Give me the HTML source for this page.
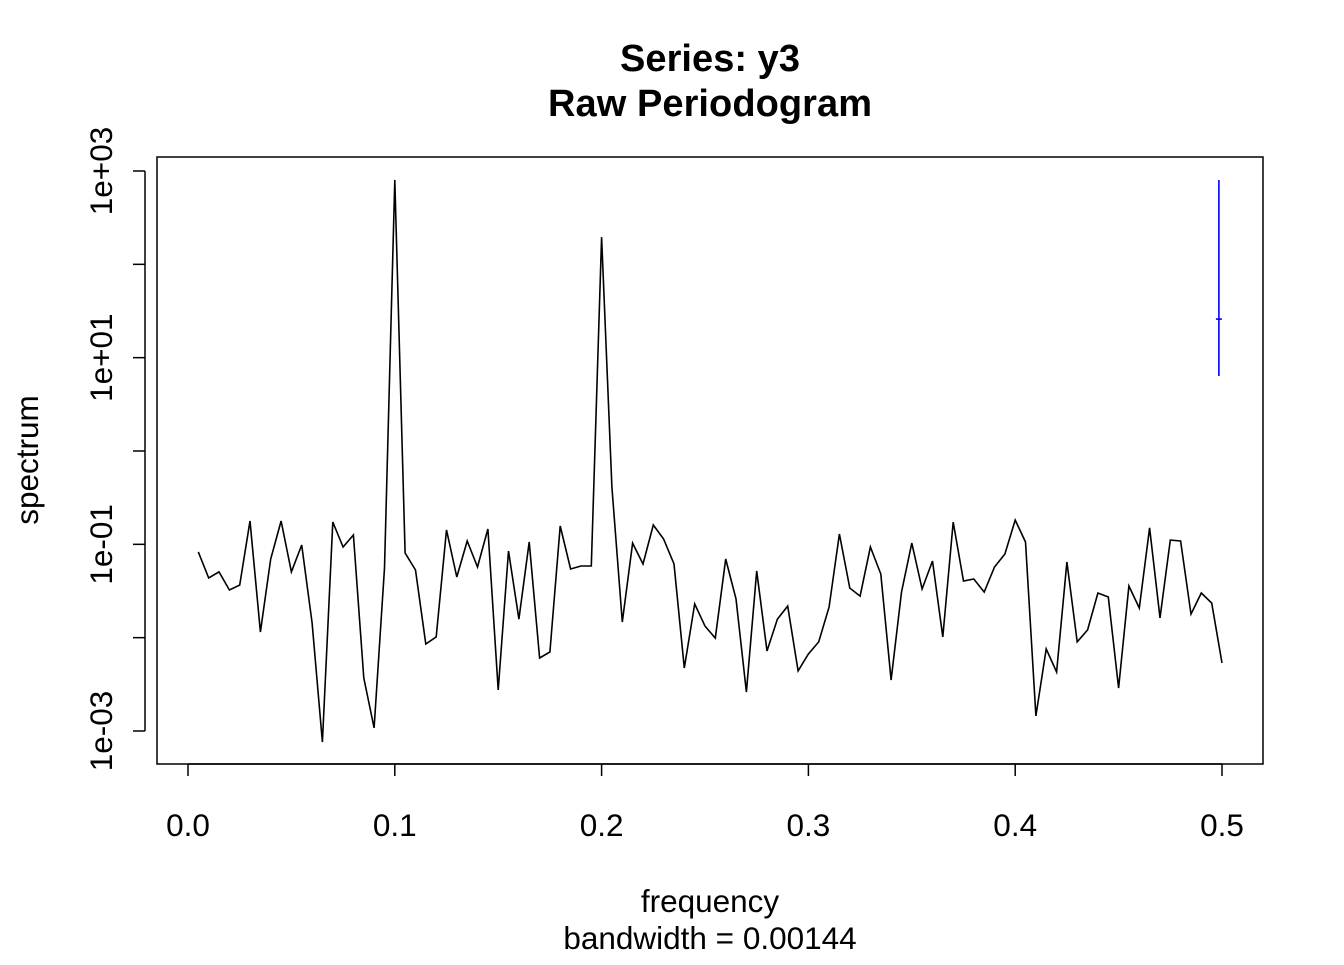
<!DOCTYPE html>
<html><head><meta charset="utf-8"><style>
html,body{margin:0;padding:0;background:#fff}
svg text{font-family:"Liberation Sans",sans-serif;fill:#000}
</style></head><body>
<svg id="chart" width="1344" height="960" xmlns="http://www.w3.org/2000/svg">
<text x="710" y="71" font-size="38" font-weight="bold" text-anchor="middle" textLength="180">Series: y3</text>
<text x="710" y="116" font-size="38" font-weight="bold" text-anchor="middle" textLength="324">Raw Periodogram</text>
<rect x="157" y="157" width="1106" height="607" fill="none" stroke="#000" stroke-width="1.5"/>
<text x="710" y="912" font-size="31.5" text-anchor="middle">frequency</text>
<text x="710" y="949" font-size="31.5" text-anchor="middle">bandwidth = 0.00144</text>
<text transform="translate(38,460) rotate(-90)" font-size="31.5" text-anchor="middle">spectrum</text>
<g id="axes"></g>
<g id="marks"></g>
</svg>
<script>
const freqs = [];
for (let i = 1; i <= 100; i++) freqs.push(+(i * 0.005).toFixed(3));
const spectrum = [0.083,0.0436,0.0506,0.0324,0.0366,0.178,0.0115,0.0697,0.178,0.0506,
0.0984,0.0144,0.00076,0.173,0.0936,0.126,0.0037,0.00108,0.0557,802,
0.0807,0.0531,0.00855,0.0102,0.1426,0.0447,0.1086,0.0571,0.146,0.00275,
0.0849,0.0158,0.106,0.00605,0.00702,0.157,0.0544,0.0586,0.0586,196,
0.411,0.0147,0.103,0.0615,0.161,0.114,0.0615,0.00473,0.023,0.0133,
0.0099,0.0697,0.026,0.00262,0.0518,0.0072,0.0158,0.0218,0.0044,0.00668,
0.009,0.0213,0.129,0.034,0.0279,0.0936,0.0481,0.00352,0.0308,0.103,
0.0332,0.0663,0.0102,0.173,0.0405,0.0425,0.0308,0.0571,0.0787,0.182,
0.106,0.00145,0.00757,0.00429,0.0647,0.009,0.0121,0.0301,0.0273,0.00289,
0.0358,0.0208,0.15,0.0163,0.111,0.1086,0.0179,0.0301,0.0235,0.00535];
const xTicks = [0.0,0.1,0.2,0.3,0.4,0.5];
const xTickLabels = ["0.0","0.1","0.2","0.3","0.4","0.5"];
const yTicksExp = [-3,-2,-1,0,1,2,3];
const yTickLabels = {"-3":"1e-03","-1":"1e-01","1":"1e+01","3":"1e+03"};
const ciBar = [6.37, 25.9, 802];
const ciFreq = 0.4985;

const NS = "http://www.w3.org/2000/svg";
function X(f){ return 188 + f * 2068; }
function Y(v){ return 171 + (3 - Math.log10(v)) * 93.333; }
function mk(tag, attrs, parent){ const e = document.createElementNS(NS, tag); for (const k in attrs) e.setAttribute(k, attrs[k]); parent.appendChild(e); return e; }
const axes = document.getElementById('axes');
const marks = document.getElementById('marks');

mk('line',{x1:X(0),x2:X(0.5),y1:764,y2:764,stroke:'#000','stroke-width':1.5},axes);
xTicks.forEach((t,i)=>{
  const l = mk('line',{x1:X(t),x2:X(t),y1:764,y2:776,stroke:'#000','stroke-width':1.5},axes);
  
  
  const tx = mk('text',{x:X(t),y:836,'font-size':31.5,'text-anchor':'middle'},axes);
  tx.textContent = xTickLabels[i];
  
  
});
mk('line',{x1:145,x2:145,y1:Y(1e3),y2:Y(1e-3),stroke:'#000','stroke-width':1.5},axes);
yTicksExp.forEach(e=>{
  const y = Y(Math.pow(10,e));
  const l = mk('line',{x1:133,x2:145,y1:y,y2:y,stroke:'#000','stroke-width':1.5},axes);
  
  
  if (yTickLabels[String(e)]) {
    const tx = mk('text',{transform:`translate(112,${y}) rotate(-90)`,'font-size':31.5,'text-anchor':'middle'},axes);
    tx.textContent = yTickLabels[String(e)];
    
    
  }
});
const pts = freqs.map((f,i)=>X(f).toFixed(1)+','+Y(spectrum[i]).toFixed(1)).join(' ');
const line = mk('polyline',{points:pts,fill:'none',stroke:'#000','stroke-width':1.6,'stroke-linejoin':'miter'},marks);


const ci = mk('line',{x1:X(ciFreq),x2:X(ciFreq),y1:Y(ciBar[2]),y2:Y(ciBar[0]),stroke:'#0000ff','stroke-width':1.6},marks);


const cm = mk('line',{x1:X(ciFreq)-3,x2:X(ciFreq)+3,y1:Y(ciBar[1]),y2:Y(ciBar[1]),stroke:'#0000ff','stroke-width':1.6},marks);


</script>
</body></html>
